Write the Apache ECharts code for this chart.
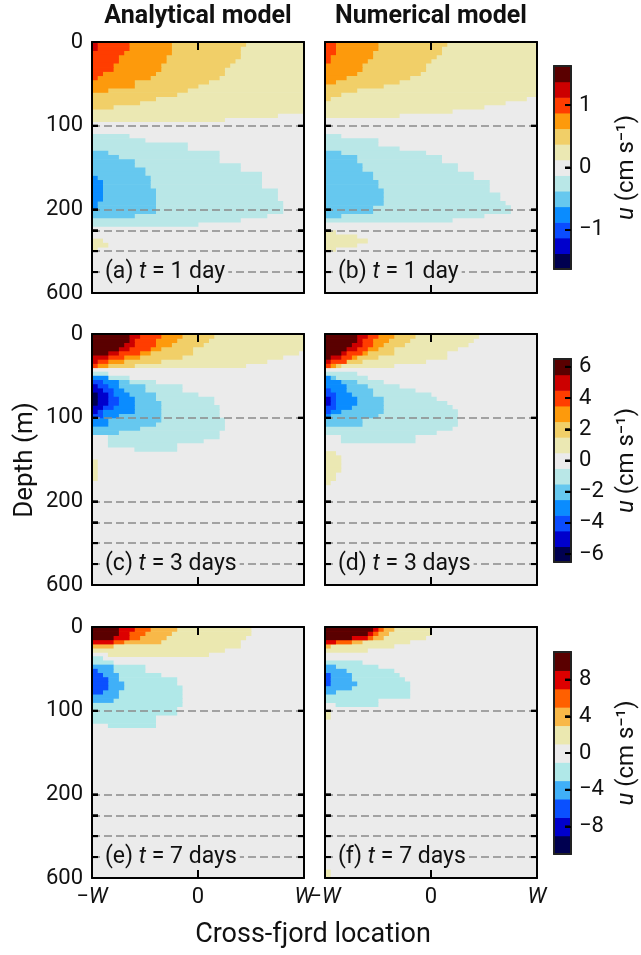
<!DOCTYPE html>
<html>
<head>
<meta charset="utf-8">
<script src="https://cdn.jsdelivr.net/npm/echarts@6/dist/echarts.min.js"></script>
<style>
html, body { margin: 0; background: #fff; }
#chart { width: 641px; height: 955px; }
</style>
</head>
<body>
<div id="chart"></div>
<script>
// colour bands, lowest to highest
var colors13 = ['#000050','#0000cc','#0a4cff','#0a8cff','#66c8ef','#b9e7e7','#ebebeb','#ebe8b3','#f1cf68','#fd9a0c','#ff3d00','#cc0000','#5a0000'];
var colors11 = ['#000050','#0000cc','#0a50ff','#40b0f8','#b0e8e8','#ebebeb','#ebe8b0','#f8b848','#ff6000','#dd0000','#5a0000'];

// colorbar level edges and ticks (cm/s)
var levels1 = [-1.625,-1.375,-1.125,-0.875,-0.625,-0.375,-0.125,0.125,0.375,0.625,0.875,1.125,1.375,1.625];
var levels2 = [-6.5,-5.5,-4.5,-3.5,-2.5,-1.5,-0.5,0.5,1.5,2.5,3.5,4.5,5.5,6.5];
var levels3 = [-11,-9,-7,-5,-3,-1,1,3,5,7,9,11];
var ticks1 = [-1, 0, 1];
var ticks2 = [-6, -4, -2, 0, 2, 4, 6];
var ticks3 = [-8, -4, 0, 4, 8];

// depth axis: 0-200 m linear, 200-600 m squeezed
var depthTicks = [100, 200, 300, 400, 500];
var depthLabels = [0, 100, 200, 600];
var dashDepths = [100, 200, 300, 400, 500];
var crossTicks = [0];

// contour bands: [band, first row, extent per row]
// 40 columns across the fjord, rows 5 axis units deep; extent = columns from the left wall,
// or [from, to] where the band leaves the wall
var bandsA = [
  [1, 0, [40,40,40,40,40,40,40,40,40,40,40,40,40,40,40,40,40,35,25]],
  [2, 0, [29,28,28,28,27,26,25,25,24,22,20,18,16,12,9,4]],
  [3, 0, [15,15,15,14,14,13,13,12,11,8,8,3]],
  [4, 0, [7,7,6,5,5,4,4,2,1]],
  [5, 0, [1,1]],
  [-1, 22, [7,10,18,18,24,24,24,28,28,32,32,32,32,35,35,35,36,36,36,33,28,20]],
  [-2, 26, [3,5,8,8,10,10,11,11,11,12,12,12,12,12,12,8]],
  [-3, 32, [1,2,2,2,2,2,1,1]],
  [1, 47, [2,3,1]]
];
var bandsB = [
  [1, 0, [40,40,40,40,40,40,40,40,40,40,40,40,40,38,34,30,24,14]],
  [2, 0, [23,22,22,21,20,19,19,18,16,14,11,6,3,1]],
  [3, 0, [10,10,9,9,8,7,7,6,4,2]],
  [4, 0, [2,2,2,1,1]],
  [-1, 22, [3,10,10,14,19,22,22,25,25,28,28,31,31,31,33,33,34,35,35,30,24]],
  [-2, 26, [3,6,6,7,7,9,9,10,10,11,11,11,11,9,9,3]],
  [1, 45, [2,6,8,6,2]]
];
var bandsC = [
  [1, 0, [40,40,40,40,39,36,33,29]],
  [2, 0, [23,22,21,19,19,17,13,8]],
  [3, 0, [17,16,15,13,11,9,6,3]],
  [4, 0, [13,12,12,11,9,6,3,1]],
  [5, 0, [9,8,8,7,5,3,1]],
  [6, 0, [7,7,6,5,3]],
  [-1, 9, [3,7,12,17,17,20,23,23,24,24,24,25,25,25,24,[3,24],[3,21],[3,16],[8,16]]],
  [-2, 10, [3,7,10,10,12,12,13,13,13,13,13,12,9,5]],
  [-3, 10, [3,5,5,6,7,8,8,8,8,5,3,3]],
  [-4, 11, [2,3,4,4,5,5,4,2,2]],
  [-5, 12, [1,2,3,3,3,2,1]],
  [-6, 14, [1,1,1]],
  [1, 30, [1,1,1,1,1]]
];
var bandsD = [
  [1, 0, [29,28,27,25,23,23,19,13]],
  [2, 0, [17,16,15,13,13,10,7,3]],
  [3, 0, [13,12,11,10,8,6,4,2]],
  [4, 0, [10,9,9,8,7,5,4,1]],
  [5, 0, [8,7,7,6,4,3,1]],
  [6, 0, [6,6,5,4,3,1]],
  [-1, 9, [6,8,11,14,17,20,21,23,24,25,25,25,25,24,21,[3,17],[3,17]]],
  [-2, 10, [2,6,8,9,9,11,11,11,11,10,7,7]],
  [-3, 10, [1,3,4,4,5,6,6,5,3,1]],
  [-4, 13, [1,2,2,2,2,1]],
  [-5, 15, [1,1]],
  [1, 28, [2,3,3,3,3,2,2,1]]
];
var bandsE = [
  [1, 0, [30,30,29,28,28,25,[3,22]]],
  [2, 0, [16,15,14,13,4]],
  [3, 0, [11,10,9,6]],
  [4, 0, [8,7,7,4]],
  [5, 0, [5,5,4]],
  [-1, 7, [2,4,10,10,13,16,16,17,17,17,17,17,16,16,12,12,[3,12]]],
  [-2, 9, [4,4,5,5,6,6,5,5,4]],
  [-3, 10, [1,2,3,3,3,2]]
];
var bandsF = [
  [1, 0, [20,20,19,16,13,8]],
  [2, 0, [13,12,11,7,1]],
  [3, 0, [11,10,9,5]],
  [4, 0, [10,9,8,2]],
  [5, 0, [9,8,5]],
  [-1, 8, [7,10,13,14,15,16,16,16,16,10,[2,10]]],
  [-2, 9, [2,4,5,5,6,5,2]],
  [-3, 11, [1,1,1]],
  [1, 20, [1,1]],
  [1, 58, [1,1]]
];

var FONT = 'Roboto';
var INK = '#111';
var TICK_FS = 22, LABEL_FS = 23, TITLE_FS = 25, AXNAME_FS = 26, CB_FS = 24;
var COLW = 2 / 40, ROWH = 5;
var XTICK_PX = 8, YTICK_PX = 6;

function depthToY(d) { return d <= 200 ? d : 200 + (d - 200) / 4; }
function yToDepth(y) { return y <= 200 ? y : 200 + (y - 200) * 4; }
function minus(v) { return v < 0 ? '\u2212' + Math.abs(v) : String(v); }

function panelRects(bands, palette, mid) {
  // whole panel in the zero band first, then the bands on top
  var out = [{ value: [-1, 1, 0, 300], itemStyle: { color: palette[mid] } }];
  bands.forEach(function (b) {
    b[2].forEach(function (e, k) {
      var from = Array.isArray(e) ? e[0] : 0;
      var to = Array.isArray(e) ? e[1] : e;
      if (to <= from) return;
      var r = b[1] + k;
      out.push({
        value: [-1 + from * COLW, -1 + to * COLW, r * ROWH, (r + 1) * ROWH],
        itemStyle: { color: palette[b[0] + mid] }
      });
    });
  });
  return out;
}

function renderRect(params, api) {
  var a = api.coord([api.value(0), api.value(2)]);
  var b = api.coord([api.value(1), api.value(3)]);
  return {
    type: 'rect',
    shape: { x: a[0], y: Math.min(a[1], b[1]), width: b[0] - a[0] + 0.4, height: Math.abs(b[1] - a[1]) + 0.6 },
    style: { fill: api.visual('color') }
  };
}

// inward tick: anchor on the frame, pixel offset (dx, dy)
function renderTick(params, api) {
  var p = api.coord([api.value(0), api.value(1)]);
  return {
    type: 'line',
    shape: { x1: p[0], y1: p[1], x2: p[0] + api.value(2), y2: p[1] + api.value(3) },
    style: { stroke: '#000', lineWidth: 2 }
  };
}

function tickMarks() {
  var out = [];
  crossTicks.forEach(function (x) {
    out.push([x, 0, 0, XTICK_PX], [x, 300, 0, -XTICK_PX]);
  });
  depthTicks.forEach(function (d) {
    out.push([-1, depthToY(d), YTICK_PX, 0], [1, depthToY(d), -YTICK_PX, 0]);
  });
  return out;
}

var panels = [
  { bands: bandsA, pal: colors13, mid: 6, left: 92, top: 42, tag: 'a', days: '1 day' },
  { bands: bandsB, pal: colors13, mid: 6, left: 325, top: 42, tag: 'b', days: '1 day' },
  { bands: bandsC, pal: colors13, mid: 6, left: 92, top: 334, tag: 'c', days: '3 days' },
  { bands: bandsD, pal: colors13, mid: 6, left: 325, top: 334, tag: 'd', days: '3 days' },
  { bands: bandsE, pal: colors11, mid: 5, left: 92, top: 627, tag: 'e', days: '7 days' },
  { bands: bandsF, pal: colors11, mid: 5, left: 325, top: 627, tag: 'f', days: '7 days' }
];
var PW = 212, PH = 251;

var grids = [], xAxes = [], yAxes = [], series = [], graphics = [];
var frame = { show: true, onZero: false, lineStyle: { color: '#000', width: 2 } };
var tickStyle = { color: '#000', width: 2 };

panels.forEach(function (p, i) {
  var col = i % 2, row = Math.floor(i / 2);
  grids.push({ left: p.left, top: p.top, width: PW, height: PH });
  xAxes.push({
    gridIndex: i, type: 'value', min: -1, max: 1, interval: 1, position: 'bottom', z: 10,
    axisLine: frame, splitLine: { show: false },
    axisTick: { show: true, inside: true, length: XTICK_PX, lineStyle: tickStyle },
    axisLabel: {
      show: row === 2, margin: 8,
      fontFamily: FONT, fontSize: TICK_FS, color: INK,
      formatter: function (v) { return v === 0 ? '0' : (v < 0 ? '\u2212{i|W}' : '{i|W}'); },
      rich: { i: { fontStyle: 'italic', fontFamily: FONT, fontSize: TICK_FS, color: INK } }
    }
  });
  xAxes.push({
    gridIndex: i, type: 'value', min: -1, max: 1, interval: 1, position: 'top', z: 10,
    axisLine: frame, splitLine: { show: false },
    axisTick: { show: true, inside: true, length: XTICK_PX, lineStyle: tickStyle },
    axisLabel: { show: false }
  });
  yAxes.push({
    gridIndex: i, type: 'value', min: 0, max: 300, inverse: true, position: 'left', z: 10,
    axisLine: frame, splitLine: { show: false },
    axisTick: { inside: true, length: YTICK_PX, customValues: depthTicks.map(depthToY), lineStyle: tickStyle },
    axisLabel: {
      show: col === 0, customValues: depthLabels.map(depthToY), margin: 9,
      fontFamily: FONT, fontSize: TICK_FS, color: INK,
      formatter: function (v) { return String(Math.round(yToDepth(v))); }
    }
  });
  yAxes.push({
    gridIndex: i, type: 'value', min: 0, max: 300, inverse: true, position: 'right', z: 10,
    axisLine: frame, splitLine: { show: false },
    axisTick: { inside: true, length: YTICK_PX, customValues: depthTicks.map(depthToY), lineStyle: tickStyle },
    axisLabel: { show: false, customValues: depthLabels.map(depthToY) }
  });
  series.push({
    type: 'custom', xAxisIndex: 2 * i, yAxisIndex: 2 * i, clip: true, silent: true, z: 1,
    renderItem: renderRect, data: panelRects(p.bands, p.pal, p.mid)
  });
  series.push({
    type: 'line', xAxisIndex: 2 * i, yAxisIndex: 2 * i, data: [], z: 3, silent: true,
    markLine: {
      silent: true, symbol: ['none', 'none'], label: { show: false }, animation: false,
      lineStyle: { color: '#8a8a8a', width: 1.5, type: [8, 4] },
      emphasis: { disabled: true },
      data: dashDepths.map(function (d) { return { yAxis: depthToY(d) }; })
    }
  });
  series.push({
    type: 'custom', xAxisIndex: 2 * i, yAxisIndex: 2 * i, clip: false, silent: true, z: 6,
    renderItem: renderTick, data: tickMarks()
  });
  graphics.push({
    type: 'text', z: 100,
    x: p.left + 10, y: p.top + PH * depthToY(500) / 300,
    style: {
      text: '(' + p.tag + ') {i|t} = ' + p.days,
      rich: { i: { fontStyle: 'italic', fontFamily: FONT, fontSize: LABEL_FS, fill: INK } },
      fontFamily: FONT, fontSize: LABEL_FS, fill: INK,
      align: 'left', verticalAlign: 'middle',
      backgroundColor: '#ebebeb', padding: [1, 3, 1, 3]
    }
  });
});

// colorbars
var bars = [
  { levels: levels1, ticks: ticks1, pal: colors13, top: 66, height: 203 },
  { levels: levels2, ticks: ticks2, pal: colors13, top: 359, height: 203 },
  { levels: levels3, ticks: ticks3, pal: colors11, top: 652, height: 202 }
];
var barFrame = { show: true, onZero: false, lineStyle: { color: '#222', width: 2 } };
bars.forEach(function (b, k) {
  var g = grids.length;
  grids.push({ left: 554, top: b.top, width: 17, height: b.height });
  xAxes.push({ gridIndex: g, type: 'value', min: 0, max: 1, position: 'bottom', z: 10,
    axisLine: barFrame, axisTick: { show: false }, axisLabel: { show: false }, splitLine: { show: false } });
  xAxes.push({ gridIndex: g, type: 'value', min: 0, max: 1, position: 'top', z: 10,
    axisLine: barFrame, axisTick: { show: false }, axisLabel: { show: false }, splitLine: { show: false } });
  var lo = b.levels[0], hi = b.levels[b.levels.length - 1];
  yAxes.push({ gridIndex: g, type: 'value', min: lo, max: hi, position: 'left', z: 10,
    axisLine: barFrame, axisTick: { show: false }, axisLabel: { show: false }, splitLine: { show: false } });
  yAxes.push({
    gridIndex: g, type: 'value', min: lo, max: hi, position: 'right', z: 10,
    axisLine: barFrame, splitLine: { show: false },
    axisTick: { inside: true, length: 6, customValues: b.ticks, lineStyle: { color: '#000', width: 2 } },
    axisLabel: { customValues: b.ticks, margin: 8, fontFamily: FONT, fontSize: TICK_FS, color: INK, formatter: minus }
  });
  var cells = [];
  for (var j = 0; j < b.levels.length - 1; j++) {
    cells.push({ value: [0, 1, b.levels[j], b.levels[j + 1]], itemStyle: { color: b.pal[j] } });
  }
  series.push({ type: 'custom', xAxisIndex: 2 * g, yAxisIndex: 2 * g, clip: true, silent: true, z: 1,
    renderItem: renderRect, data: cells });
  series.push({ type: 'custom', xAxisIndex: 2 * g, yAxisIndex: 2 * g, clip: false, silent: true, z: 6,
    renderItem: renderTick, data: b.ticks.map(function (t) { return [1, t, -6, 0]; }) });
  graphics.push({
    type: 'text', x: 627, y: b.top + b.height / 2, rotation: Math.PI / 2,
    style: {
      text: '{i|u} (cm s\u207b\u00b9)',
      rich: { i: { fontStyle: 'italic', fontFamily: FONT, fontSize: CB_FS, fill: INK } },
      fontFamily: FONT, fontSize: CB_FS, fill: INK, align: 'center', verticalAlign: 'middle'
    }
  });
});

graphics.push(
  { type: 'text', x: 198, y: 17, style: { text: 'Analytical model', fontFamily: FONT, fontWeight: 'bold', fontSize: TITLE_FS, fill: INK, align: 'center', verticalAlign: 'middle' } },
  { type: 'text', x: 431, y: 17, style: { text: 'Numerical model', fontFamily: FONT, fontWeight: 'bold', fontSize: TITLE_FS, fill: INK, align: 'center', verticalAlign: 'middle' } },
  { type: 'text', x: 25, y: 460, rotation: Math.PI / 2, style: { text: 'Depth (m)', fontFamily: FONT, fontSize: AXNAME_FS, fill: INK, align: 'center', verticalAlign: 'middle' } },
  { type: 'text', x: 313, y: 935, style: { text: 'Cross-fjord location', fontFamily: FONT, fontSize: AXNAME_FS + 1, fill: INK, align: 'center', verticalAlign: 'middle' } }
);

var chart = echarts.init(document.getElementById('chart'));
chart.setOption({
  animation: false,
  backgroundColor: '#fff',
  grid: grids,
  xAxis: xAxes,
  yAxis: yAxes,
  series: series,
  graphic: graphics
});
</script>
</body>
</html>
